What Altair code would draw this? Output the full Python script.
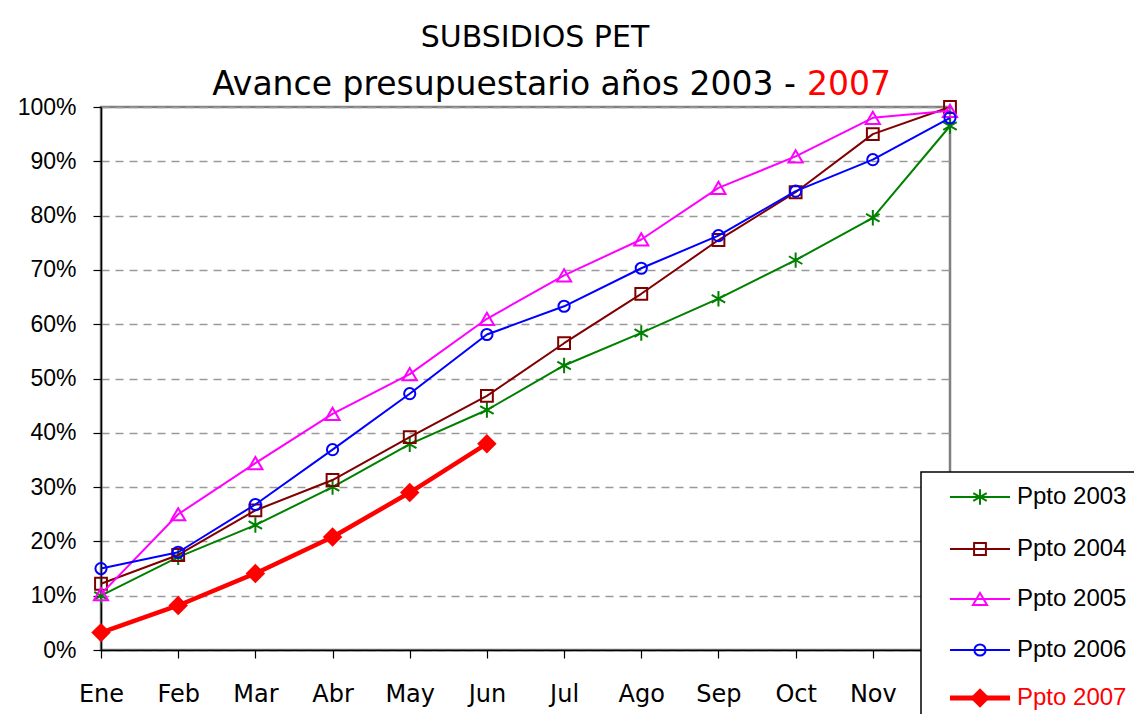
import altair as alt
import pandas as pd

# ---------------- data ----------------
months = ["Ene", "Feb", "Mar", "Abr", "May", "Jun", "Jul", "Ago", "Sep", "Oct", "Nov", "Dic"]
series_names = ["Ppto 2003", "Ppto 2004", "Ppto 2005", "Ppto 2006", "Ppto 2007"]

v2003 = [10.0, 17.1, 23.0, 30.0, 37.9, 44.2, 52.4, 58.4, 64.7, 71.8, 79.6, 96.5]
v2004 = [12.2, 17.5, 25.7, 31.3, 39.2, 46.8, 56.5, 65.6, 75.5, 84.3, 95.0, 100.0]
v2005 = [10.3, 25.0, 34.4, 43.5, 50.8, 61.0, 69.0, 75.6, 85.1, 90.9, 98.0, 99.3]
v2006 = [15.0, 18.0, 26.8, 36.9, 47.2, 58.1, 63.3, 70.3, 76.3, 84.5, 90.3, 98.0]
v2007 = [3.2, 8.2, 14.1, 20.8, 29.0, 38.0]
series_values = [v2003, v2004, v2005, v2006, v2007]

title_line1 = "SUBSIDIOS PET"
title_line2a = "Avance presupuestario años 2003 -"
title_line2b = "2007"

# ---------------- styles ----------------
ASTERISK = "M0,-1L0,1M-0.87,-0.5L0.87,0.5M-0.87,0.5L0.87,-0.5"
colors = ["#008000", "#800000", "#FF00FF", "#0000FF", "#FF0000"]
shapes = [ASTERISK, "square", "triangle-up", "circle", "diamond"]
sizes = [240, 140, 200, 125, 380]
line_widths = [2, 2, 2, 2, 4.5]
filled = [False, False, False, False, True]
text_colors = ["black", "black", "black", "black", "#FF0000"]

rows = []
for name, vals in zip(series_names, series_values):
    for m, v in zip(months, vals):
        rows.append({"serie": name, "mes": m, "valor": v})
df = pd.DataFrame(rows)

x_enc = alt.X(
    "mes:N",
    sort=months,
    scale=alt.Scale(type="point", domain=months, padding=0),
    axis=alt.Axis(
        title=None,
        grid=False,
        domainColor="black",
        domainWidth=1.5,
        tickColor="black",
        tickSize=8,
        tickWidth=1.2,
        labelFont="DejaVu Sans",
        labelFontSize=24,
        labelColor="black",
        labelPadding=24,
        labelAngle=0,
    ),
)
y_enc = alt.Y(
    "valor:Q",
    scale=alt.Scale(domain=[0, 100], nice=False, zero=True),
    axis=alt.Axis(
        title=None,
        values=list(range(0, 101, 10)),
        labelExpr="datum.value + '%'",
        grid=True,
        gridDash=[8, 6],
        gridColor="#9a9a9a",
        gridWidth=1.3,
        domainColor="black",
        domainWidth=1.5,
        tickColor="black",
        tickSize=8,
        tickWidth=1.2,
        labelFont="Liberation Sans",
        labelFontSize=23,
        labelColor="black",
        labelPadding=17,
    ),
)

layers = []
for i, name in enumerate(series_names):
    base = alt.Chart(df).transform_filter(alt.datum.serie == name)
    layers.append(
        base.mark_line(color=colors[i], strokeWidth=line_widths[i], strokeJoin="round").encode(x=x_enc, y=y_enc)
    )
    layers.append(
        base.mark_point(
            shape=shapes[i], size=sizes[i], color=colors[i], filled=filled[i],
            opacity=1, strokeWidth=2,
        ).encode(x=x_enc, y=y_enc)
    )

one = pd.DataFrame({"k": [0]})

# legend box
layers.append(
    alt.Chart(one).mark_rect(fill="white", stroke="black", strokeWidth=1.5).encode(
        x=alt.value(820), x2=alt.value(1400), y=alt.value(365), y2=alt.value(1000)
    )
)
legend_y = [390, 442, 492, 543, 591]
for i, name in enumerate(series_names):
    d = pd.DataFrame({"serie": [name]})
    yi = legend_y[i]
    layers.append(
        alt.Chart(d).mark_rule(color=colors[i], strokeWidth=line_widths[i] + (0.5 if i == 4 else 0)).encode(
            x=alt.value(849), x2=alt.value(909), y=alt.value(yi)
        )
    )
    layers.append(
        alt.Chart(d).mark_point(
            shape=shapes[i], size=sizes[i], color=colors[i], filled=filled[i],
            opacity=1, strokeWidth=2,
        ).encode(x=alt.value(879), y=alt.value(yi))
    )
    layers.append(
        alt.Chart(d).mark_text(
            align="left", baseline="middle", font="Liberation Sans", fontSize=24, color=text_colors[i]
        ).encode(x=alt.value(916), y=alt.value(yi), text="serie:N")
    )

# titles
layers.append(
    alt.Chart(one).mark_text(
        align="center", baseline="middle", font="DejaVu Sans", fontSize=30, color="black"
    ).encode(x=alt.value(434), y=alt.value(-69), text=alt.value(title_line1))
)
layers.append(
    alt.Chart(one).mark_text(
        align="right", baseline="middle", font="DejaVu Sans", fontSize=33, color="black"
    ).encode(x=alt.value(695), y=alt.value(-22), text=alt.value(title_line2a))
)
layers.append(
    alt.Chart(one).mark_text(
        align="left", baseline="middle", font="DejaVu Sans", fontSize=33, color="#FF0000"
    ).encode(x=alt.value(706), y=alt.value(-22), text=alt.value(title_line2b))
)

chart = (
    alt.layer(*layers)
    .properties(
        width=849,
        height=543,
        autosize=alt.AutoSizeParams(type="none"),
        padding={"left": 93, "top": 99, "right": 184, "bottom": 64},
        background="white",
    )
    .configure_view(stroke="#808080", strokeWidth=2.5)
)

chart.save("out.html", embed_options={"renderer": "svg", "actions": False})
